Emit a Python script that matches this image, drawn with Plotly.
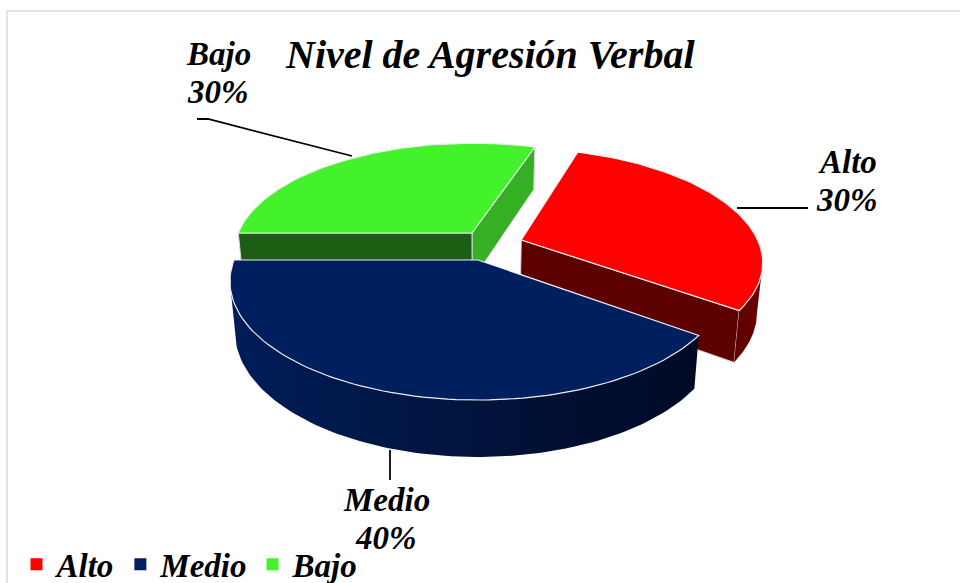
import numpy as np
import plotly.graph_objects as go

categorias = ['Alto', 'Medio', 'Bajo']
valores = [30, 40, 30]
colores_top = ['#ff0000', '#001f5e', '#44f22c']
titulo = 'Nivel de Agresión Verbal'

# proyeccion de la torta 3D a pixeles
CX, CY = 478, 260
R, RT = 244, 114.8
K = 0.18
ALTO_3D = 49
F_BASE = 0.98
INICIO = 72

separacion = {'Alto': (0.183, 0.18), 'Medio': (0, 0), 'Bajo': (-0.0257, 0.2455)}
fuente = 'Liberation Serif'
borde = '#e4e4e4'


def proyectar(x, y, base=False):
    s = 1 / (1 + K * y)
    f = F_BASE if base else 1
    h = ALTO_3D * s if base else 0
    return CX + R * x * s * f, CY - RT * y * s * f + h


def poligono(fig, puntos, color, linea=None, ancho=1.2):
    xs = [p[0] for p in puntos] + [puntos[0][0]]
    ys = [p[1] for p in puntos] + [puntos[0][1]]
    fig.add_trace(go.Scatter(
        x=xs, y=ys, mode='lines', fill='toself', fillcolor=color,
        line=dict(color=linea or color, width=ancho),
        showlegend=False, hoverinfo='skip'
    ))


def cara(fig, nombre, ang, color):
    # pared radial desde el centro hasta el borde
    ox, oy = separacion[nombre]
    a = np.radians(ang)
    p = (ox + np.cos(a), oy + np.sin(a))
    poligono(fig, [proyectar(ox, oy), proyectar(*p), proyectar(*p, base=True), proyectar(ox, oy, base=True)],
             color, '#d8d8d8', 1)


def pared(fig, nombre, a1, a2, escala, n=120):
    # pared curva con degradado horizontal, cortada donde la tapa llega a su extremo
    ox, oy = separacion[nombre]
    angs = np.radians(np.linspace(a1, a2, n))
    arco = [(ox + np.cos(a), oy + np.sin(a)) for a in angs]
    k = int(np.argmax([abs(proyectar(*p)[0] - CX) for p in arco]))
    arco = arco[:k + 1]
    pts = [proyectar(*p) for p in arco] + [proyectar(*p, base=True) for p in arco[::-1]]
    xs = [p[0] for p in pts] + [pts[0][0]]
    ys = [p[1] for p in pts] + [pts[0][1]]
    fig.add_trace(go.Scatter(
        x=xs, y=ys, mode='lines', fill='toself',
        fillgradient=dict(type='horizontal', colorscale=escala),
        line=dict(color='rgba(0,0,0,0)', width=0),
        showlegend=False, hoverinfo='skip'
    ))


def tapa(fig, nombre, a1, a2, color):
    ox, oy = separacion[nombre]
    angs = np.radians(np.linspace(a1, a2, 90))
    pts = [proyectar(ox, oy)] + [proyectar(ox + np.cos(a), oy + np.sin(a)) for a in angs]
    poligono(fig, pts, color, '#ececec', 1.2)


# angulos de cada porcion, en sentido horario desde INICIO
angulos = {}
actual = INICIO
for cat, val in zip(categorias, valores):
    angulos[cat] = (actual, actual - val / sum(valores) * 360)
    actual = angulos[cat][1]

fig = go.Figure()

# de atras hacia adelante: Bajo, Alto, Medio
a1, a2 = angulos['Bajo']
cara(fig, 'Bajo', a2, '#35b025')
cara(fig, 'Bajo', a1, '#1b5e14')
tapa(fig, 'Bajo', a1, a2, colores_top[2])

a1, a2 = angulos['Alto']
cara(fig, 'Alto', a2, '#5c0000')
pared(fig, 'Alto', a2, 5, [[0, '#5c0000'], [1, '#6e0000']])
tapa(fig, 'Alto', a1, a2, colores_top[0])

a1, a2 = angulos['Medio']
pared(fig, 'Medio', a1, a2, [[0, '#001d58'], [0.53, '#00133c'], [1, '#000a24']])
tapa(fig, 'Medio', a1, a2, colores_top[1])

# lineas guia de las etiquetas
guias = [
    ([197, 208, 352], [119, 119, 156]),
    ([737, 808], [208, 208]),
    ([390, 390], [450, 480]),
]
for gx, gy in guias:
    fig.add_trace(go.Scatter(x=gx, y=gy, mode='lines', line=dict(color='#000000', width=1.8),
                             showlegend=False, hoverinfo='skip'))

# leyenda
for cat, col in zip(categorias, colores_top):
    fig.add_trace(go.Scatter(x=[None], y=[None], mode='markers', name=cat,
                             marker=dict(symbol='square', size=12, color=col)))

etiquetas = {'Alto': (847, 162), 'Medio': (386, 500), 'Bajo': (218, 54)}
anotaciones = []
for cat, val in zip(categorias, valores):
    ex, ey = etiquetas[cat]
    for linea, dy in ((cat, 0), (f'{val}%', 38)):
        anotaciones.append(dict(
            x=ex, y=ey + dy, text=f'<b><i>{linea}</i></b>',
            showarrow=False, xref='x', yref='y',
            font=dict(family=fuente, size=33, color='#000000')
        ))
anotaciones.append(dict(
    x=490, y=54, text=f'<b><i>{titulo}</i></b>', showarrow=False, xref='x', yref='y',
    font=dict(family=fuente, size=40, color='#000000')
))

fig.update_layout(
    width=960, height=583,
    margin=dict(l=0, r=0, t=0, b=0, autoexpand=False),
    paper_bgcolor='#ffffff', plot_bgcolor='#ffffff',
    xaxis=dict(range=[0, 960], visible=False, fixedrange=True),
    yaxis=dict(range=[583, 0], visible=False, fixedrange=True),
    annotations=anotaciones,
    shapes=[
        dict(type='line', x0=7, x1=7, y0=10, y1=583, line=dict(color=borde, width=2)),
        dict(type='line', x0=7, x1=960, y0=11, y1=11, line=dict(color=borde, width=2)),
    ],
    legend=dict(
        orientation='h', x=0.0172, y=-0.016, xanchor='left', yanchor='bottom',
        font=dict(family=fuente, size=33, color='#000000', weight='bold', style='italic'),
        bgcolor='rgba(0,0,0,0)', itemwidth=30
    ),
)

fig.write_html('out.html', config={'displayModeBar': False},
               post_script="document.body.style.margin='0';")
